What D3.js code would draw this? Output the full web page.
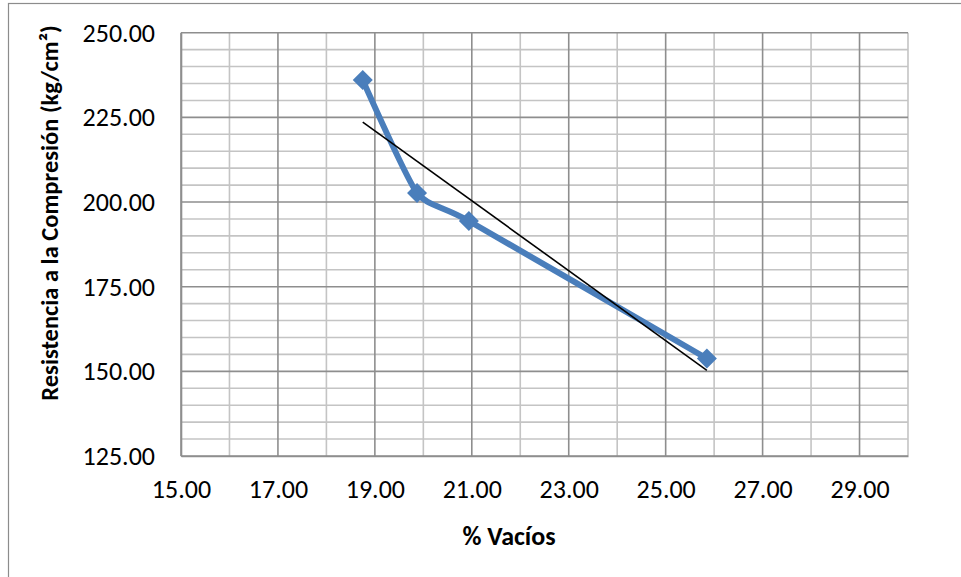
<!DOCTYPE html>
<html>
<head>
<meta charset="utf-8">
<script src="https://cdn.jsdelivr.net/npm/d3@7"></script>
<style>
  html, body { margin: 0; padding: 0; background: #fff; }
  svg { display: block; font-family: Carlito, Lato, "Open Sans", sans-serif; }
</style>
</head>
<body>
<svg id="chart" width="961" height="577"></svg>
<script>
// Porcentaje de vacíos vs. resistencia a la compresión
const vacios = [18.75, 19.87, 20.94, 25.85];
const resistencia = [236.0, 202.7, 194.4, 153.8];

const xTickLabels = [15, 17, 19, 21, 23, 25, 27, 29];
const yTickLabels = [125, 150, 175, 200, 225, 250];

const xTitle = "% Vacíos";
const yTitle = "Resistencia a la Compresión (kg/cm²)";

const W = 961, H = 577;
const plot = { left: 181, top: 32.7, right: 908, bottom: 456 };

const svg = d3.select("#chart");

// outer chart frame
svg.append("rect")
  .attr("x", 8.5).attr("y", 3.5)
  .attr("width", W + 10).attr("height", H + 10)
  .attr("fill", "#fff").attr("stroke", "#8c8c8c").attr("stroke-width", 1.2);

const x = d3.scaleLinear().domain([15, 30]).range([plot.left, plot.right]);
const y = d3.scaleLinear().domain([125, 250]).range([plot.bottom, plot.top]);

const grid = svg.append("g");

// minor gridlines (every 1 in x, every 5 in y)
const xMinor = d3.range(15, 31, 1).filter(v => !xTickLabels.includes(v));
const yMinor = d3.range(125, 251, 5).filter(v => !yTickLabels.includes(v));
const xMajor = xTickLabels;
const yMajor = yTickLabels;

grid.selectAll("line.xmin").data(xMinor).join("line")
  .attr("x1", d => x(d)).attr("x2", d => x(d))
  .attr("y1", plot.top).attr("y2", plot.bottom)
  .attr("stroke", "#c4c4c4").attr("stroke-width", 1.6);
grid.selectAll("line.ymin").data(yMinor).join("line")
  .attr("x1", plot.left).attr("x2", plot.right)
  .attr("y1", d => y(d)).attr("y2", d => y(d))
  .attr("stroke", "#c4c4c4").attr("stroke-width", 1.6);

// major gridlines
grid.selectAll("line.xmaj").data(xMajor).join("line")
  .attr("x1", d => x(d)).attr("x2", d => x(d))
  .attr("y1", plot.top).attr("y2", plot.bottom)
  .attr("stroke", "#8e8e8e").attr("stroke-width", 1.6);
grid.selectAll("line.ymaj").data(yMajor).join("line")
  .attr("x1", plot.left).attr("x2", plot.right)
  .attr("y1", d => y(d)).attr("y2", d => y(d))
  .attr("stroke", "#8e8e8e").attr("stroke-width", 1.6);

// axes (labels only; the lines are drawn as part of the grid)
const fmt = d3.format(".2f");
const xAxis = svg.append("g")
  .attr("transform", `translate(0,${plot.bottom})`)
  .call(d3.axisBottom(x).tickValues(xTickLabels).tickFormat(fmt).tickSize(0).tickPadding(24));
const yAxis = svg.append("g")
  .attr("transform", `translate(${plot.left},0)`)
  .call(d3.axisLeft(y).tickValues(yTickLabels).tickFormat(fmt).tickSize(0).tickPadding(26));

[xAxis, yAxis].forEach(g => {
  g.select(".domain").attr("stroke", "#8e8e8e").attr("stroke-width", 1.6);
  g.selectAll("text").attr("font-size", 26).attr("fill", "#000")
    .style("font-family", "Carlito, Lato, 'Open Sans', sans-serif");
});

// linear trend line (least squares)
const n = vacios.length;
const mx = d3.mean(vacios), my = d3.mean(resistencia);
let sxy = 0, sxx = 0;
for (let i = 0; i < n; i++) {
  sxy += (vacios[i] - mx) * (resistencia[i] - my);
  sxx += (vacios[i] - mx) ** 2;
}
const slope = sxy / sxx, intercept = my - slope * mx;
const x0 = d3.min(vacios), x1 = d3.max(vacios);

// data series (smoothed)
const pts = vacios.map((v, i) => [v, resistencia[i]]);
const line = d3.line().x(d => x(d[0])).y(d => y(d[1])).curve(d3.curveCardinal.tension(0.45));

svg.append("path")
  .datum(pts)
  .attr("d", line)
  .attr("fill", "none")
  .attr("stroke", "#4a7ebb")
  .attr("stroke-width", 6)
  .attr("stroke-linejoin", "round")
  .attr("stroke-linecap", "round");

svg.selectAll("path.marker").data(pts).join("path")
  .attr("class", "marker")
  .attr("d", d3.symbol(d3.symbolSquare, 200)())
  .attr("transform", d => `translate(${x(d[0])},${y(d[1])}) rotate(45)`)
  .attr("fill", "#4a7ebb");

svg.append("line")
  .attr("x1", x(x0)).attr("y1", y(intercept + slope * x0))
  .attr("x2", x(x1)).attr("y2", y(intercept + slope * x1))
  .attr("stroke", "#000").attr("stroke-width", 1.6);

// axis titles
svg.append("text")
  .attr("x", 509).attr("y", 545)
  .attr("text-anchor", "middle")
  .attr("font-size", 26).attr("font-weight", "bold")
  .text(xTitle);

svg.append("text")
  .attr("transform", "translate(58,213) rotate(-90)")
  .attr("text-anchor", "middle")
  .attr("font-size", 24.5).attr("font-weight", "bold")
  .text(yTitle);
</script>
</body>
</html>
